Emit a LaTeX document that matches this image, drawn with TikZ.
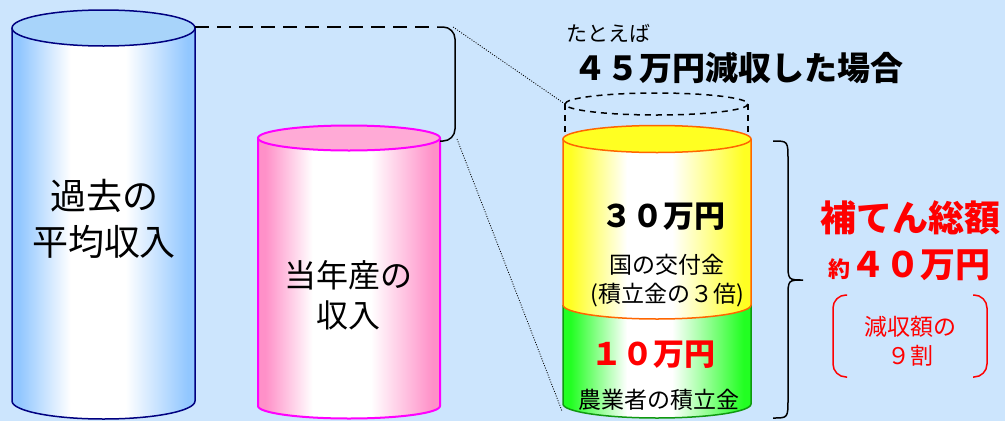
\documentclass[tikz,border=0pt]{standalone}
\usepackage{fontspec}
\setmainfont{Noto Sans CJK JP}
\usetikzlibrary{calc}
\definecolor{bgblue}{HTML}{CCE5FD}
\definecolor{cylblue}{HTML}{92C7FF}
\definecolor{topblue}{HTML}{A8D4FA}
\definecolor{lineblue}{HTML}{000080}
\definecolor{cylpink}{HTML}{FF90C8}
\definecolor{toppink}{HTML}{FFAAD6}
\definecolor{linepink}{HTML}{FF00FF}
\definecolor{cylyellow}{HTML}{FFFF22}
\definecolor{lineorange}{HTML}{FF6600}
\definecolor{cylgreen}{HTML}{22FF22}
\definecolor{linegreen}{HTML}{109910}
\definecolor{textred}{HTML}{FF0000}
\pgfdeclarehorizontalshading{bluecyl}{100bp}{color(0bp)=(cylblue); color(27bp)=(cylblue); color(41bp)=(white); color(56bp)=(white); color(73bp)=(cylblue); color(100bp)=(cylblue)}
\pgfdeclarehorizontalshading{pinkcyl}{100bp}{color(0bp)=(cylpink); color(27bp)=(cylpink); color(40bp)=(white); color(56bp)=(white); color(73bp)=(cylpink); color(100bp)=(cylpink)}
\pgfdeclarehorizontalshading{yellowcyl}{100bp}{color(0bp)=(cylyellow); color(27bp)=(cylyellow); color(42bp)=(white); color(54bp)=(white); color(73bp)=(cylyellow); color(100bp)=(cylyellow)}
\pgfdeclarehorizontalshading{greencyl}{100bp}{color(0bp)=(cylgreen); color(27bp)=(cylgreen); color(42bp)=(white); color(54bp)=(white); color(73bp)=(cylgreen); color(100bp)=(cylgreen)}

\begin{document}
\begin{tikzpicture}[x = 1pt, y = -1pt,
    big label/.style = {inner sep = 0pt, align = center},
    small label/.style = {inner sep = 0pt, align = center, font = \fontsize{23}{29}\selectfont},
    red label/.style = {inner sep = 0pt, align = center, textred, font = \bfseries}]
  \fill[bgblue] (0, 0) rectangle (1005, 421);
  \useasboundingbox (0, 0) rectangle (1005, 421);

  % past average income
  \shade[shading = bluecyl] (12, 28) -- (12, 401) %
    arc[start angle = 180, end angle = 0, x radius = 91.5, y radius = 18] -- (195, 28) -- cycle;
  \draw[lineblue, line width = 1.5] (12, 28) -- (12, 401) %
    arc[start angle = 180, end angle = 0, x radius = 91.5, y radius = 18] -- (195, 28);
  \filldraw[fill = topblue, draw = lineblue, line width = 1.5] (103.5, 28) ellipse[x radius = 91.5, y radius = 18];

  % this year's income
  \shade[shading = pinkcyl] (258, 138) -- (258, 406) %
    arc[start angle = 180, end angle = 0, x radius = 91, y radius = 12.5] -- (440, 138) -- cycle;
  \draw[linepink, line width = 2] (258, 138) -- (258, 406) %
    arc[start angle = 180, end angle = 0, x radius = 91, y radius = 12.5] -- (440, 138);
  \filldraw[fill = toppink, draw = linepink, line width = 2] (349, 138) ellipse[x radius = 91, y radius = 12.5];

  % compensation cylinder: green part, yellow part
  \shade[shading = greencyl] (563, 305) -- (563, 404) %
    arc[start angle = 180, end angle = 0, x radius = 94, y radius = 14] -- (751, 305) -- cycle;
  \draw[linegreen, line width = 1.5] (563, 305) -- (563, 404) %
    arc[start angle = 180, end angle = 0, x radius = 94, y radius = 14] -- (751, 305);
  \shade[shading = yellowcyl] (563, 139) -- (563, 305) %
    arc[start angle = 180, end angle = 0, x radius = 94, y radius = 14] -- (751, 139) -- cycle;
  \draw[lineorange, line width = 1.5] (563, 139) -- (563, 305) %
    arc[start angle = 180, end angle = 0, x radius = 94, y radius = 14] -- (751, 139);
  \filldraw[fill = cylyellow, draw = lineorange, line width = 1.5] (657, 139) ellipse[x radius = 94, y radius = 13.5];

  % lost part
  \draw[line width = 1.5, dash pattern = on 6pt off 5pt] (656.5, 104) ellipse[x radius = 91.5, y radius = 11];
  \draw[line width = 1.5, dash pattern = on 6pt off 5pt] (565, 104) -- (565, 133);
  \draw[line width = 1.5, dash pattern = on 6pt off 5pt] (748, 104) -- (748, 133);

  % difference bracket
  \draw[line width = 1.5, dash pattern = on 14pt off 8pt] (195, 27) -- (437, 27);
  \draw[line width = 1.5, rounded corners = 12] (437, 27) -- (455, 27) -- (455, 141) -- (440, 141);
  \coordinate (bracket top) at (453, 27);
  \coordinate (bracket bottom) at (457, 139);
  \coordinate (lost top) at (565, 104);
  \coordinate (green bottom) at (562, 411);
  \draw[line width = 0.8, dash pattern = on 1pt off 1.5pt] (bracket top) -- (lost top);
  \draw[line width = 0.8, dash pattern = on 1pt off 1.5pt] (bracket bottom) -- (green bottom);

  % brace and red parentheses
  \draw[line width = 1.5] (773, 141) .. controls (788, 141) .. (788, 160) -- (788, 262) %
    .. controls (788, 280) .. (803, 280) .. controls (788, 280) .. (788, 298) %
    -- (788, 399) .. controls (788, 418) .. (773, 418);
  \draw[textred, line width = 1.5, rounded corners = 13] (847, 295) -- (833, 295) -- (833, 377) -- (847, 377);
  \draw[textred, line width = 1.5, rounded corners = 13] (973, 295) -- (987, 295) -- (987, 377) -- (973, 377);

  % texts
  \node[big label, font = \fontsize{36}{46}\selectfont] (past) at (104, 219) {過去の\\平均収入};
  \node[big label, font = \fontsize{32}{40}\selectfont] (this year) at (348, 295) {当年産の\\収入};
  \node[inner sep = 0pt, anchor = west, font = \fontsize{21}{21}\selectfont] (example) at (566, 33) {たとえば};
  \node[inner sep = 0pt, font = \fontsize{33}{33}\selectfont\bfseries] (loss) at (738, 68) {４５万円減収した場合};
  \node[inner sep = 0pt, font = \fontsize{31}{31}\selectfont\bfseries] (state sum) at (663, 217) {３０万円};
  \node[small label] (state) at (667, 281) {国の交付金\\(積立金の３倍)};
  \node[red label, font = \fontsize{31}{31}\selectfont\bfseries] (farmer sum) at (653, 355) {１０万円};
  \node[small label] (farmer) at (659, 400) {農業者の積立金};
  \node[red label, font = \fontsize{36}{36}\selectfont\bfseries] (total) at (910, 218) {補てん総額};
  \node[red label, font = \fontsize{35}{35}\selectfont\bfseries] (total sum) at (909, 265) %
    {{\fontsize{22}{22}\selectfont 約}４０万円};
  \node[small label, textred] (ratio) at (910, 341) {減収額の\\９割};
\end{tikzpicture}
\end{document}
